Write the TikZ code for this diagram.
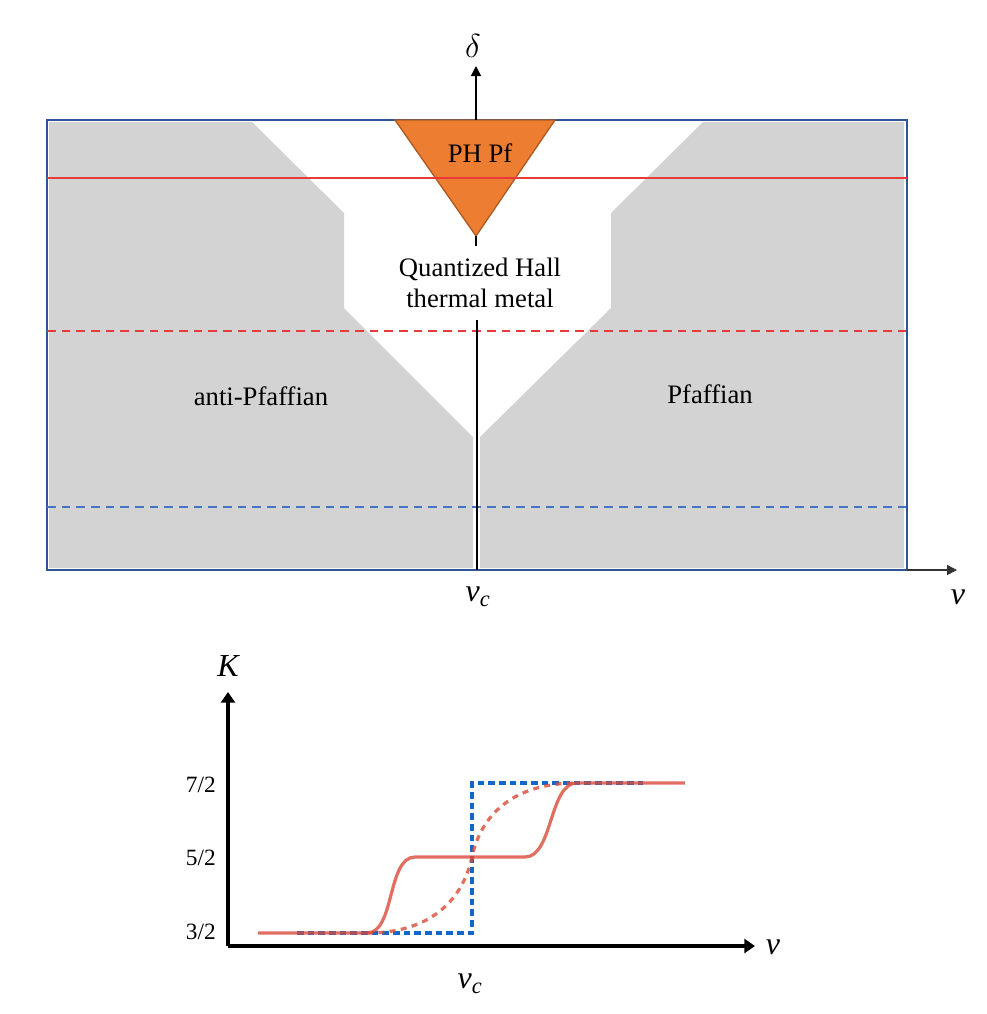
\documentclass[tikz,border=0pt]{standalone}
\usepackage{fontspec}
\setmainfont{Liberation Serif}
\usetikzlibrary{arrows.meta}
\definecolor{grayfill}{HTML}{D3D3D3}
\definecolor{boxblue}{HTML}{2F5597}
\definecolor{linered}{HTML}{E83A3A}
\definecolor{dashblue}{HTML}{4472C4}
\definecolor{triorange}{HTML}{ED7D31}
\definecolor{triedge}{HTML}{AE5A21}
\definecolor{curvered}{HTML}{D94B3A}
\definecolor{stepblue}{HTML}{1168C8}
\definecolor{axisgray}{HTML}{333333}
\begin{document}
\begin{tikzpicture}[x=0.75pt,y=-0.75pt,
  lbl/.style={font=\fontsize{20}{23}\selectfont, align=center, inner sep=0pt},
  axlbl/.style={font=\fontsize{24}{28}\selectfont\itshape, inner sep=0pt},
  ticklbl/.style={font=\fontsize{17.5}{20}\selectfont, inner sep=0pt, anchor=east},
  hline/.style={line width=2pt},
  thickax/.style={line width=2.3pt, -{Triangle[length=8pt,width=10.5pt]}},
  thinax/.style={line width=1.1pt, -{Triangle[length=7.5pt,width=7.5pt]}},
  curve/.style={curvered, opacity=0.8, line width=2.4pt},
  stepdash/.style={stepblue, line width=2.3pt, dash pattern=on 5pt off 3pt}
]
\useasboundingbox[fill=white] (0,0) rectangle (987,1014);

% ---------- top phase diagram ----------
\fill[grayfill] (49,122) -- (252,122) -- (344,213) -- (344,308) -- (473,437) -- (473,568) -- (49,568) -- cycle;
\fill[grayfill] (904,122) -- (703,122) -- (611,213) -- (611,308) -- (480,437) -- (480,568) -- (904,568) -- cycle;

\draw[boxblue, line width=1.5pt] (47,120) rectangle (907,570);

\coordinate (boxcorner) at (907,570);
\coordinate (xtip) at (957,570);
\coordinate (dbase) at (476,120);
\coordinate (dtip) at (476,66);

\draw[fill=triorange, draw=triedge, line width=1pt] (395,120) -- (555,120) -- (476,236) -- cycle;
\coordinate (tritip) at (476,236);

\draw[linered, hline] (47,178) -- (907,178);
\draw[linered, hline, dash pattern=on 6.5pt off 4.5pt] (47,331) -- (907,331);
\draw[dashblue, hline, dash pattern=on 6.5pt off 4.5pt] (47,507) -- (907,507);

\coordinate (vl1) at (476,246);
\coordinate (vl2) at (477,320);
\coordinate (vl3) at (477,570);
\draw[line width=1.2pt] (tritip) -- (vl1);
\draw[line width=1.2pt] (vl2) -- (vl3);

\draw[thinax] (dbase) -- (dtip);
\draw[axisgray, thinax] (boxcorner) -- (xtip);

\node[axlbl] (delta) at (473,46) {$\delta$};
\node[axlbl] (nu1) at (958,597) {v};
\node[axlbl] (nuc1) at (478,597) {v\textsubscript{\itshape c}};

\node[lbl] (php) at (480,153) {PH Pf};
\node[lbl] (qhtm) at (480,283) {Quantized Hall\\thermal metal};
\node[lbl] (apf) at (261,396) {anti-Pfaffian};
\node[lbl] (pf) at (710,394) {Pfaffian};

% ---------- bottom plot ----------
\coordinate (org) at (228,946);
\coordinate (ytip) at (228,692);
\coordinate (xtip2) at (755,946);
\draw[thickax] (org) -- (ytip);
\draw[thickax] (org) -- (xtip2);

\node[axlbl] (K) at (228,666) {K};
\node[axlbl] (nu2) at (773,947) {v};
\node[axlbl] (nuc2) at (470,984) {v\textsubscript{\itshape c}};

\node[ticklbl] (t7) at (216,785) {7/2};
\node[ticklbl] (t5) at (216,858) {5/2};
\node[ticklbl] (t3) at (216,932) {3/2};

% step (blue dashed)
\draw[stepdash] (297,933) -- (472,933) -- (472,783) -- (643,783);

% smooth crossover (red dashed)
\draw[curve, dash pattern=on 4.5pt off 4pt]
  (367,933) .. controls (440,933) and (465,890) .. (472,857)
            .. controls (479,824) and (504,783) .. (577,783);

% two-step (red solid)
\draw[curve]
  (258,933) -- (367,933) .. controls (395,933) and (387,857) .. (415,857)
  -- (525,857) .. controls (553,857) and (549,783) .. (577,783) -- (685,783);
\end{tikzpicture}
\end{document}
